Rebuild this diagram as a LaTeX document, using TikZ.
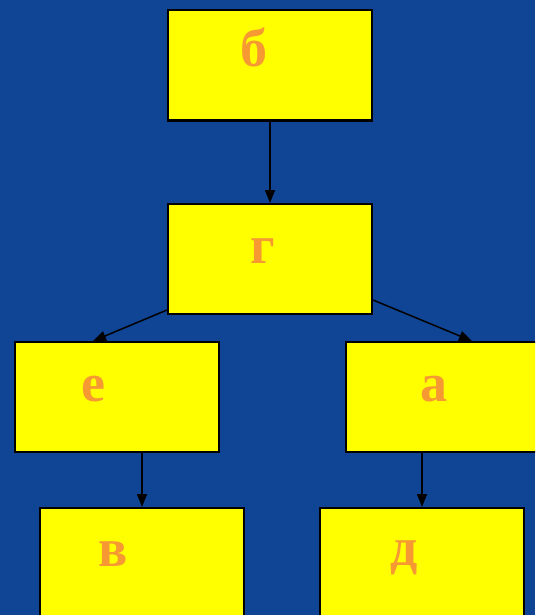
\documentclass[tikz,border=0pt]{standalone}
\usepackage{fontspec}
\setmainfont{Liberation Serif}
\usetikzlibrary{arrows.meta, positioning, calc}
\definecolor{bgblue}{RGB}{16,68,148}
\definecolor{boxyellow}{RGB}{255,255,0}
\definecolor{letterorange}{RGB}{247,153,51}

\begin{document}
\begin{tikzpicture}[
    x=1pt, y=-1pt,
    box/.style={rectangle, draw=black, line width=2pt, fill=boxyellow, minimum width=204pt, minimum height=110pt, inner sep=0pt},
    letter/.style={anchor=base, inner sep=0pt, text=letterorange, font=\fontsize{54}{54}\selectfont\bfseries},
    arrow/.style={-{Triangle[length=13pt, width=10pt]}, line width=1.5pt, black}
]
    \useasboundingbox (0,0) rectangle (535,615);
    \clip (0,0) rectangle (535,615);
    \fill[bgblue] (0,0) rectangle (535,615);

    % Boxes
    \node[box] (b) at (270,65.5) {};
    \node[box] (g) at (270,259) {};
    \node[box] (e) at (117,397) {};
    \node[box] (a) at (448,397) {};
    \node[box] (v) at (142,563) {};
    \node[box] (d) at (422,563) {};

    % Letters
    \node[letter] (bl) at (253.5,67) {б};
    \node[letter] (gl) at (263,263) {г};
    \node[letter] (el) at (93,401) {е};
    \node[letter] (al) at (434,401) {а};
    \node[letter] (vl) at (113.5,566) {в};
    \node[letter] (dl) at (404,565) {д};

    % Connectors
    \draw[arrow] (b.south) -- (g.north);
    \draw[arrow] ([yshift=5pt]g.south west) -- ([xshift=-24pt]e.north);
    \draw[arrow] ([yshift=15pt]g.south east) -- ([xshift=24pt]a.north);
    \draw[arrow] (e.south -| v.north) -- (v.north);
    \draw[arrow] (a.south -| d.north) -- (d.north);
\end{tikzpicture}
\end{document}
